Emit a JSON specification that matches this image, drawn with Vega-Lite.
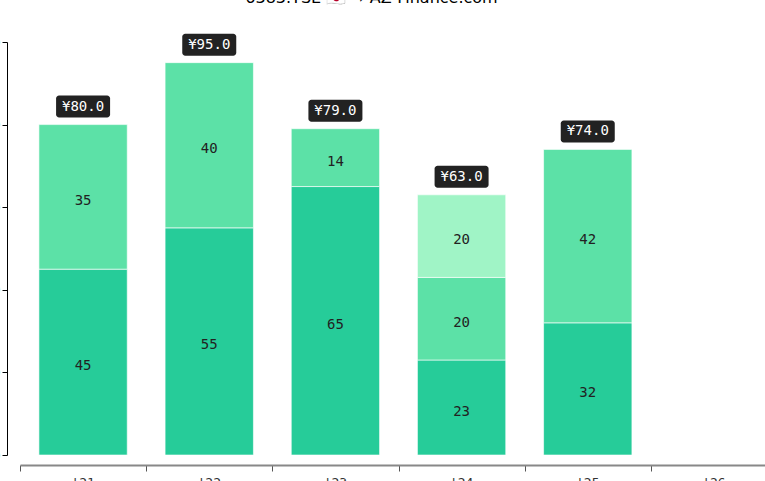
{
  "$schema": "https://vega.github.io/schema/vega-lite/v6.json",
  "background": "white",
  "autosize": "none",
  "padding": {"left": 20, "top": 42, "right": 0, "bottom": 26},
  "width": 745,
  "height": 413,
  "view": {"stroke": null},
  "title": {
    "text": "6383.TSE 🇯🇵 ➡ AZ-Finance.com",
    "frame": "group",
    "anchor": "middle",
    "offset": 15,
    "dx": -21,
    "baseline": "alphabetic",
    "font": "DejaVu Sans",
    "fontSize": 16,
    "fontWeight": "normal",
    "color": "#000000"
  },
  "datasets": {
    "parts": [
      {"year": "'21", "part": 1, "value": 45},
      {"year": "'21", "part": 2, "value": 35},
      {"year": "'22", "part": 1, "value": 55},
      {"year": "'22", "part": 2, "value": 40},
      {"year": "'23", "part": 1, "value": 65},
      {"year": "'23", "part": 2, "value": 14},
      {"year": "'24", "part": 1, "value": 23},
      {"year": "'24", "part": 2, "value": 20},
      {"year": "'24", "part": 3, "value": 20},
      {"year": "'25", "part": 1, "value": 32},
      {"year": "'25", "part": 2, "value": 42}
    ],
    "totals": [
      {"year": "'21", "total": 80},
      {"year": "'22", "total": 95},
      {"year": "'23", "total": 79},
      {"year": "'24", "total": 63},
      {"year": "'25", "total": 74}
    ]
  },
  "resolve": {"axis": {"x": "independent"}},
  "layer": [
    {
      "data": {"name": "parts"},
      "mark": {"type": "bar", "stroke": "white", "strokeWidth": 1, "strokeOpacity": 0.6},
      "encoding": {
        "x": {
          "field": "year",
          "type": "nominal",
          "scale": {
            "domain": ["'21", "'22", "'23", "'24", "'25", "'26"],
            "range": [0, 757],
            "paddingInner": 0.3,
            "paddingOuter": 0.15
          },
          "axis": {
            "orient": "bottom",
            "title": null,
            "labels": false,
            "offset": 10,
            "tickOffset": -63,
            "domainColor": "#888888",
            "domainWidth": 2,
            "tickColor": "#555555",
            "tickSize": 6
          }
        },
        "y": {
          "field": "value",
          "type": "quantitative",
          "stack": "zero",
          "scale": {"domain": [0, 100]},
          "axis": {
            "title": null,
            "values": [0, 20, 40, 60, 80, 100],
            "offset": 13,
            "grid": false,
            "domainColor": "#000000",
            "tickColor": "#000000",
            "tickSize": 5,
            "labelFont": "DejaVu Sans Mono",
            "labelFontSize": 13
          }
        },
        "color": {
          "field": "part",
          "type": "ordinal",
          "scale": {"domain": [1, 2, 3], "range": ["#26cc99", "#5ce1a7", "#a0f4c6"]},
          "legend": null
        },
        "order": {"field": "part"}
      }
    },
    {
      "data": {"name": "parts"},
      "transform": [
        {"stack": "value", "groupby": ["year"], "sort": [{"field": "part"}], "as": ["y0", "y1"]},
        {"calculate": "(datum.y0 + datum.y1) / 2", "as": "mid"}
      ],
      "mark": {"type": "text", "font": "DejaVu Sans Mono", "fontSize": 14, "color": "#222222", "baseline": "middle", "dy": 4},
      "encoding": {
        "x": {
          "field": "year",
          "type": "nominal",
          "axis": {
            "orient": "bottom",
            "title": null,
            "labelAngle": 0,
            "offset": 10,
            "domain": false,
            "ticks": true,
            "tickOpacity": 0,
            "tickSize": 6,
            "labelFont": "DejaVu Sans Mono",
            "labelFontSize": 13,
            "labelColor": "#333333",
            "labelPadding": 5
          }
        },
        "y": {"field": "mid", "type": "quantitative"},
        "text": {"field": "value", "type": "quantitative"}
      }
    },
    {
      "data": {"name": "totals"},
      "mark": {"type": "tick", "orient": "horizontal", "size": 54, "thickness": 22, "color": "#222222", "opacity": 1, "cornerRadius": 3, "yOffset": -18},
      "encoding": {
        "x": {"field": "year", "type": "nominal", "axis": null},
        "y": {"field": "total", "type": "quantitative"}
      }
    },
    {
      "data": {"name": "totals"},
      "transform": [
        {"calculate": "'¥' + format(datum.total, '.1f')", "as": "label"}
      ],
      "mark": {"type": "text", "font": "DejaVu Sans Mono", "fontSize": 14, "color": "white", "baseline": "middle", "yOffset": -18},
      "encoding": {
        "x": {"field": "year", "type": "nominal", "axis": null},
        "y": {"field": "total", "type": "quantitative"},
        "text": {"field": "label", "type": "nominal"}
      }
    }
  ]
}
